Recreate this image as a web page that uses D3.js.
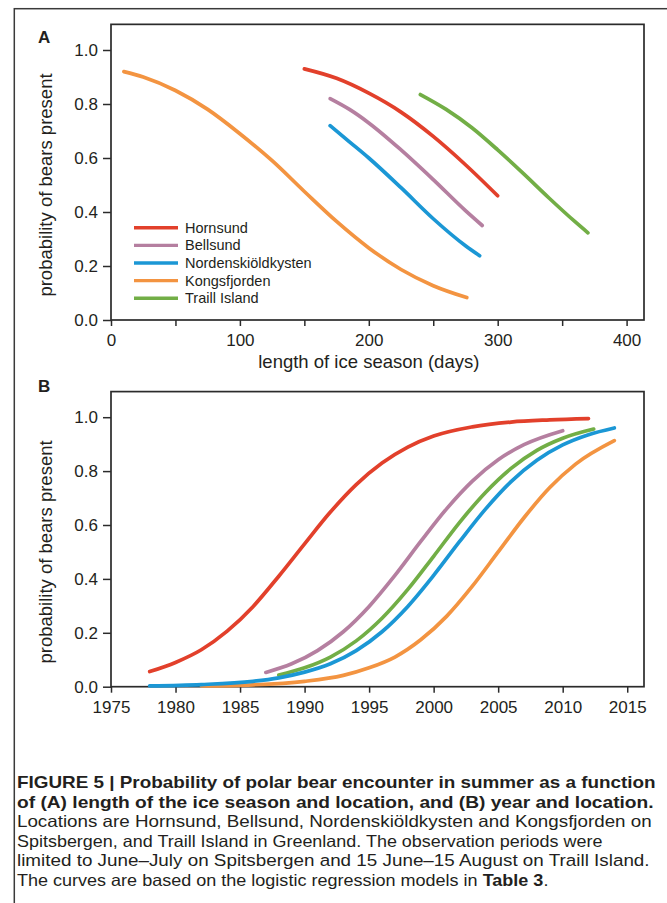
<!DOCTYPE html>
<html>
<head>
<meta charset="utf-8">
<script src="https://cdn.jsdelivr.net/npm/d3@7"></script>
<style>
  html, body { margin: 0; padding: 0; background: #fff; }
  svg { display: block; }
  text { font-family: "Liberation Sans", Arial, Helvetica, sans-serif; fill: #231f20; }
</style>
</head>
<body>
<svg id="chart" width="667" height="903"></svg>
<script>
// ---------------- DATA ----------------
const seriesNames = ["Hornsund", "Bellsund", "Nordenskiöldkysten", "Kongsfjorden", "Traill Island"];

// Panel A: probability vs length of ice season (days)
const iceDaysHornsund = [150, 175, 200, 225, 250, 275, 300];
const iceProbHornsund = [0.93, 0.895, 0.84, 0.77, 0.68, 0.575, 0.46];
const iceDaysBellsund = [170, 185, 200, 225, 250, 275, 288];
const iceProbBellsund = [0.82, 0.78, 0.73, 0.63, 0.52, 0.405, 0.35];
const iceDaysNordensk = [170, 185, 200, 225, 250, 275, 286];
const iceProbNordensk = [0.72, 0.66, 0.60, 0.49, 0.375, 0.275, 0.238];
const iceDaysKongsfj = [10, 25, 50, 75, 100, 125, 150, 175, 200, 225, 250, 276];
const iceProbKongsfj = [0.92, 0.90, 0.85, 0.78, 0.69, 0.59, 0.476, 0.365, 0.267, 0.187, 0.127, 0.083];
const iceDaysTraill = [240, 260, 280, 300, 320, 340, 360, 370];
const iceProbTraill = [0.835, 0.78, 0.712, 0.63, 0.542, 0.451, 0.364, 0.323];

// Panel B: probability vs year
const yearsHornsund = [1978, 1980, 1982, 1984, 1986, 1988, 1990, 1992, 1994, 1996, 1998, 2000, 2003, 2006, 2009, 2012];
const yearProbHornsund = [0.056, 0.09, 0.137, 0.206, 0.297, 0.41, 0.53, 0.648, 0.75, 0.83, 0.889, 0.93, 0.964, 0.982, 0.99, 0.995];
const yearsBellsund = [1987, 1989, 1991, 1993, 1995, 1997, 1999, 2001, 2003, 2005, 2007, 2010];
const yearProbBellsund = [0.053, 0.085, 0.134, 0.204, 0.298, 0.413, 0.539, 0.66, 0.763, 0.842, 0.898, 0.95];
const yearsNordensk = [1978, 1982, 1986, 1988, 1990, 1992, 1994, 1996, 1998, 2000, 2002, 2004, 2006, 2008, 2010, 2012, 2014];
const yearProbNordensk = [0.003, 0.008, 0.02, 0.033, 0.054, 0.085, 0.134, 0.204, 0.298, 0.413, 0.538, 0.658, 0.761, 0.84, 0.897, 0.935, 0.96];
const yearsKongsfj = [1982, 1986, 1990, 1993, 1995, 1997, 1999, 2001, 2003, 2005, 2007, 2009, 2011, 2014];
const yearProbKongsfj = [0.003, 0.007, 0.02, 0.042, 0.07, 0.11, 0.174, 0.261, 0.373, 0.50, 0.627, 0.739, 0.826, 0.913];
const yearsTraill = [1988, 1990, 1992, 1994, 1996, 1998, 2000, 2002, 2004, 2006, 2008, 2010, 2012.4];
const yearProbTraill = [0.043, 0.07, 0.11, 0.17, 0.254, 0.361, 0.484, 0.609, 0.72, 0.81, 0.877, 0.922, 0.956];

const yTickValues = [0, 0.2, 0.4, 0.6, 0.8, 1.0];
const xTickValuesA = [0, 50, 100, 150, 200, 250, 300, 350, 400];
const xTickLabelsA = [0, 100, 200, 300, 400];
const xTickValuesB = [1975, 1980, 1985, 1990, 1995, 2000, 2005, 2010, 2015];

const captionLines = [
  [{t: "FIGURE 5 | Probability of polar bear encounter in summer as a function", b: true}],
  [{t: "of (A) length of the ice season and location, and (B) year and location.", b: true}],
  [{t: "Locations are Hornsund, Bellsund, Nordenskiöldkysten and Kongsfjorden on", b: false}],
  [{t: "Spitsbergen, and Traill Island in Greenland. The observation periods were", b: false}],
  [{t: "limited to June–July on Spitsbergen and 15 June–15 August on Traill Island.", b: false}],
  [{t: "The curves are based on the logistic regression models in ", b: false}, {t: "Table 3", b: true}, {t: ".", b: false}]
];

// ---------------- STYLES ----------------
const colors = ["#e2402b", "#b57fa0", "#1b97d5", "#f39441", "#72ae46"];

const panelA = [
  {x: iceDaysHornsund, y: iceProbHornsund},
  {x: iceDaysBellsund, y: iceProbBellsund},
  {x: iceDaysNordensk, y: iceProbNordensk},
  {x: iceDaysKongsfj, y: iceProbKongsfj},
  {x: iceDaysTraill, y: iceProbTraill}
];
const panelB = [
  {x: yearsHornsund, y: yearProbHornsund},
  {x: yearsBellsund, y: yearProbBellsund},
  {x: yearsNordensk, y: yearProbNordensk},
  {x: yearsKongsfj, y: yearProbKongsfj},
  {x: yearsTraill, y: yearProbTraill}
];
const drawOrderB = [3, 0, 1, 4, 2];

const svg = d3.select("#chart");

// outer frame
svg.append("rect").attr("x", 14.3).attr("y", 8.7).attr("width", 720).attr("height", 960)
  .attr("fill", "none").attr("stroke", "#3a3a3a").attr("stroke-width", 1.5);

function drawPanel(opts) {
  const g = svg.append("g");
  const x = d3.scaleLinear().domain(opts.xDomain).range([111, 644]);
  const y = d3.scaleLinear().domain([0, 1.095]).range([opts.bottom, opts.bottom - 1.095 * opts.unit]);

  // frame
  g.append("rect").attr("x", 111).attr("y", y(1.095)).attr("width", 644 - 111).attr("height", opts.bottom - y(1.095))
    .attr("fill", "none").attr("stroke", "#2b2b2b").attr("stroke-width", 1.7);

  // y axis
  const yAxis = d3.axisLeft(y).tickValues(yTickValues).tickFormat(d3.format(".1f")).tickSize(8).tickPadding(5);
  const ya = g.append("g").attr("transform", "translate(111,0)").call(yAxis);
  ya.select(".domain").remove();
  ya.selectAll("line").attr("stroke", "#2b2b2b").attr("stroke-width", 1.5);
  ya.selectAll("text").attr("font-size", 17).attr("font-family", "Liberation Sans, Arial, sans-serif").attr("fill", "#231f20");

  // x axis
  const xAxis = d3.axisBottom(x).tickValues(opts.xTicks).tickSize(6).tickPadding(8)
    .tickFormat(d => opts.xLabelFilter(d) ? String(d) : "");
  const xa = g.append("g").attr("transform", `translate(0,${opts.bottom})`).call(xAxis);
  xa.select(".domain").remove();
  xa.selectAll("line").attr("stroke", "#2b2b2b").attr("stroke-width", 1.5);
  xa.selectAll("text").attr("font-size", 17).attr("font-family", "Liberation Sans, Arial, sans-serif").attr("fill", "#231f20");

  // y label
  g.append("text")
    .attr("transform", `translate(52,${(y(0) + y(1)) / 2}) rotate(-90)`)
    .attr("text-anchor", "middle").attr("font-size", 18.5)
    .text("probability of bears present");

  // panel letter
  g.append("text").attr("x", 38).attr("y", opts.letterY).attr("font-size", 17).attr("font-weight", "bold")
    .attr("fill", "#000").text(opts.letter);

  // curves
  const line = d3.line().x(d => x(d[0])).y(d => y(d[1])).curve(d3.curveMonotoneX);
  opts.order.forEach(i => {
    const s = opts.data[i];
    const pts = s.x.map((v, k) => [v, s.y[k]]);
    g.append("path").attr("d", line(pts)).attr("fill", "none")
      .attr("stroke", colors[i]).attr("stroke-width", 3.7).attr("stroke-linecap", "round");
  });
  return {g, x, y};
}

const A = drawPanel({
  xDomain: [0, 413.5], xTicks: xTickValuesA, xLabelFilter: d => xTickLabelsA.includes(d),
  bottom: 320, unit: 270, data: panelA, order: [3, 0, 1, 2, 4], letter: "A", letterY: 42.7
});
A.g.append("text").attr("x", (A.x(0) + A.x(400)) / 2).attr("y", 368).attr("text-anchor", "middle")
  .attr("font-size", 18.5).text("length of ice season (days)");

// legend in panel A
const legendYs = seriesNames.map((n, i) => 227.7 + i * 17.65);
seriesNames.forEach((n, i) => {
  A.g.append("line").attr("x1", 134).attr("x2", 178).attr("y1", legendYs[i]).attr("y2", legendYs[i])
    .attr("stroke", colors[i]).attr("stroke-width", 3.4);
  A.g.append("text").attr("x", 185).attr("y", legendYs[i] + 5).attr("font-size", 14.5).text(n);
});

const B = drawPanel({
  xDomain: [1975, 2016.3], xTicks: xTickValuesB, xLabelFilter: d => true,
  bottom: 686.7, unit: 269.5, data: panelB, order: drawOrderB, letter: "B", letterY: 392.3
});

// caption
const capBaselines = [788, 808, 827.5, 847, 866.5, 886];
const capRight = [656, 654, 652, 603, 650, 549];
captionLines.forEach((parts, i) => {
  const t = svg.append("text").attr("x", 17).attr("y", capBaselines[i]).attr("font-size", 16.5).attr("fill", "#231f20");
  parts.forEach(p => t.append("tspan").attr("font-weight", p.b ? "bold" : "normal").text(p.t));
  const w = t.node().getComputedTextLength();
  const target = capRight[i] - 17;
  const sx = target / w;
  t.attr("transform", `translate(17,0) scale(${sx},1) translate(-17,0)`);
});
</script>
</body>
</html>
